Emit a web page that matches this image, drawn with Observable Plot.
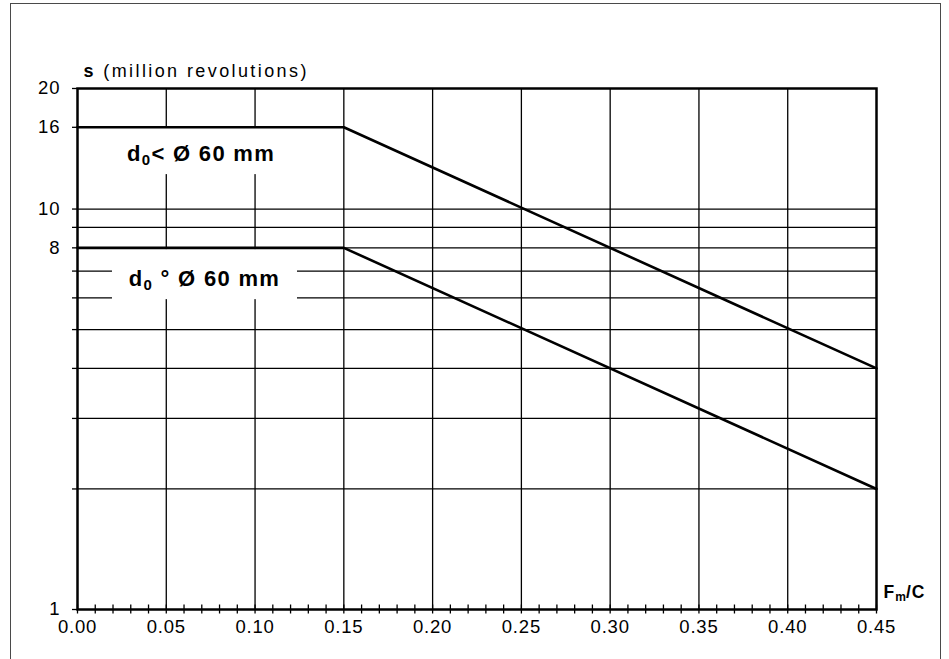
<!DOCTYPE html>
<html><head><meta charset="utf-8">
<script src="https://cdn.jsdelivr.net/npm/d3@7"></script>
<script src="https://cdn.jsdelivr.net/npm/@observablehq/plot@0.6"></script>
<style>
body{margin:0;background:#fff;}
#wrap{position:relative;width:949px;height:659px;overflow:hidden;background:#fff;}
#chart{position:absolute;left:0;top:0;}
#border{position:absolute;left:10px;top:3px;width:931px;height:720px;border:1.4px solid #4a4a4a;box-sizing:border-box;pointer-events:none;}
</style></head><body>
<div id="wrap"><div id="chart"></div><div id="border"></div></div>
<script>
// ---- data ----
const loadRatio = [0, 0.15, 0.45];          // Fm/C
const lifeSmallBore = [16, 16, 4];          // d0 < Ø 60 mm
const lifeLargeBore = [8, 8, 2];            // d0 ° Ø 60 mm
const seriesNames = ["d0 < Ø 60 mm", "d0 ° Ø 60 mm"];
const xTickValues = [0, 0.05, 0.10, 0.15, 0.20, 0.25, 0.30, 0.35, 0.40, 0.45];
const xGridValues = [0.05, 0.10, 0.15, 0.20, 0.25, 0.30, 0.35, 0.40];
const xMinorTicks = [0,0.01,0.02,0.03,0.04,0.05,0.06,0.07,0.08,0.09,0.10,0.11,0.12,0.13,0.14,0.15,0.16,0.17,0.18,0.19,0.20,0.21,0.22,0.23,0.24,0.25,0.26,0.27,0.28,0.29,0.30,0.31,0.32,0.33,0.34,0.35,0.36,0.37,0.38,0.39,0.40,0.41,0.42,0.43,0.44,0.45];
const yTickValues = [1, 2, 3, 4, 5, 6, 7, 8, 9, 10, 16, 20];
const yTickLabels = [1, 8, 10, 16, 20];
const yGridValues = [2, 3, 4, 5, 6, 7, 8, 9, 10];
const yTitle = "s (million revolutions)";
const xTitle = "Fm/C";

// annotation placement (label boxes, in data units)
const labelX = [0.0696, 0.0715];
const labelY = [13.73, 6.69];
const boxX1 = [0.0169, 0.0197], boxX2 = [0.1239, 0.1239];
const boxY1 = [12.19, 5.94], boxY2 = [15.9, 7.92];

const lines = [];
loadRatio.forEach((x, i) => lines.push({x, y: lifeSmallBore[i], s: seriesNames[0]}));
loadRatio.forEach((x, i) => lines.push({x, y: lifeLargeBore[i], s: seriesNames[1]}));
const boxes = seriesNames.map((s, i) => ({x1: boxX1[i], x2: boxX2[i], y1: boxY1[i], y2: boxY2[i]}));
const labels = seriesNames.map((s, i) => ({x: labelX[i], y: labelY[i], s}));

const svg = Plot.plot({
  width: 949, height: 659,
  marginLeft: 77, marginRight: 73, marginTop: 88, marginBottom: 50,
  style: {background: "transparent", fontFamily: "'Liberation Sans', Arial, sans-serif", fontSize: "18px", color: "#000"},
  x: {domain: [0, 0.45]},
  y: {type: "log", domain: [1, 20]},
  marks: [
    Plot.ruleY(yGridValues, {stroke: "#000", strokeWidth: 1.3}),
    Plot.ruleX(xGridValues, {stroke: "#000", strokeWidth: 1.3}),
    Plot.rect(boxes, {x1: "x1", x2: "x2", y1: "y1", y2: "y2", fill: "white"}),
    Plot.line(lines, {x: "x", y: "y", z: "s", stroke: "#000", strokeWidth: 2.6}),
    Plot.frame({stroke: "#000", strokeWidth: 2.5}),
    Plot.axisX(xMinorTicks, {tickSize: 9, dy: -4.5, tickFormat: () => "", strokeWidth: 1.3}),
    Plot.axisX(xTickValues, {tickSize: 0, tickPadding: 10, tickFormat: d3.format(".2f")}),
    Plot.axisY(yTickValues, {tickSize: 5, tickPadding: 12, strokeWidth: 1.3,
      tickFormat: d => yTickLabels.includes(d) ? String(d) : ""}),
    Plot.text([yTitle], {frameAnchor: "top-left", textAnchor: "start", dx: 6, dy: -24}),
    Plot.text([xTitle], {frameAnchor: "bottom-right", textAnchor: "start", dx: 7, dy: -12}),
    Plot.text(labels, {x: "x", y: "y", text: "s"})
  ]
});

const sel = d3.select(svg);
sel.selectAll("text").each(function() {
  const t = d3.select(this);
  const txt = this.textContent;
  if (/^\d\.\d\d$/.test(txt)) {
    t.attr("font-size", "18.5px").attr("letter-spacing", "0.8px");
  } else if (/^\d+$/.test(txt) && yTickLabels.includes(+txt)) {
    t.attr("font-size", "18.5px").attr("letter-spacing", "1px");
  } else if (txt === yTitle) {
    t.text("").attr("font-size", "18px").attr("letter-spacing", "2.4px");
    t.append("tspan").attr("font-weight", "bold").text(txt.slice(0, 1));
    t.append("tspan").text(txt.slice(1));
  } else if (txt === xTitle) {
    t.text("").attr("font-size", "17.5px").attr("font-weight", "bold").attr("letter-spacing", "1px");
    t.append("tspan").text(txt.slice(0, 1));
    t.append("tspan").attr("font-size", "12px").attr("dy", "3").attr("letter-spacing", "0").text(txt.slice(1, 2));
    t.append("tspan").attr("dy", "-3").text(txt.slice(2));
  } else if (seriesNames.includes(txt)) {
    t.text("").attr("font-size", "22px").attr("font-weight", "bold").attr("letter-spacing", "1.3px")
      .style("white-space", "pre");
    t.append("tspan").text(txt.slice(0, 1));
    t.append("tspan").attr("font-size", "15px").attr("dy", "4").text(txt.slice(1, 2));
    const rest = txt.slice(2);
    t.append("tspan").attr("dy", "-4").text(rest.startsWith(" <") ? rest.trimStart() : rest);
  }
});

document.getElementById("chart").appendChild(svg);
</script>
</body></html>
